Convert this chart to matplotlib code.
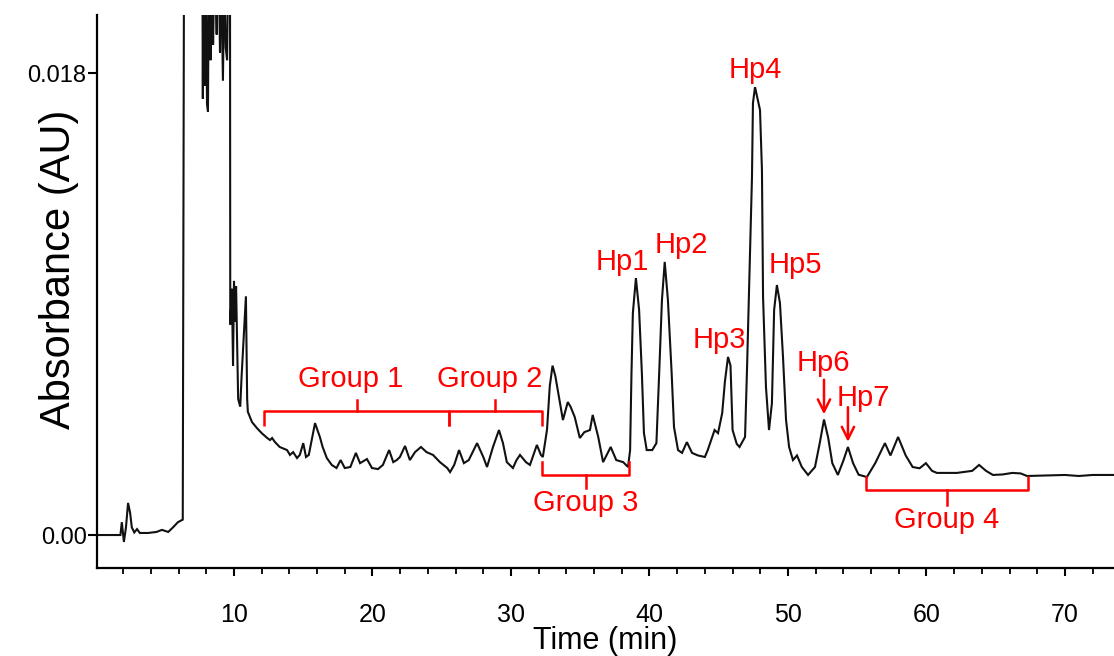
import matplotlib

matplotlib.use("Agg")
import matplotlib.pyplot as plt
from matplotlib.ticker import FixedLocator, FixedFormatter, MultipleLocator

# chromatogram trace: retention time (min) and absorbance (AU)
time_min = [
    0.1, 1.8, 1.9, 2.05, 2.2, 2.35, 2.5, 2.62, 2.8, 3.0, 3.2, 3.8, 4.4, 4.8, 5.25, 5.6, 5.95, 6.3,
    6.34, 6.4, 7.7, 7.75, 7.8, 7.9, 7.95, 8.05, 8.12, 8.2, 8.3, 8.4, 8.49, 8.6, 8.75, 8.85, 8.99,
    9.05, 9.2, 9.3, 9.4, 9.5, 9.6, 9.71, 9.73, 9.85, 9.93, 10.0, 10.07, 10.15, 10.3, 10.45, 10.55,
    10.86, 10.95, 11.0, 11.3, 11.65, 12.0, 12.4, 12.6, 12.75, 12.96, 13.3, 13.83, 14.04, 14.27,
    14.55, 14.75, 15.0, 15.2, 15.4, 15.85, 16.2, 16.4, 16.7, 17.06, 17.4, 17.7, 18.0, 18.4, 18.8,
    19.1, 19.6, 19.96, 20.4, 20.75, 21.2, 21.5, 21.75, 21.98, 22.35, 22.7, 23.07, 23.5, 23.9,
    24.37, 24.87, 25.4, 25.6, 25.9, 26.25, 26.6, 26.95, 27.55, 28.0, 28.27, 28.7, 29.13, 29.42,
    29.7, 30.14, 30.4, 30.65, 31.08, 31.37, 31.87, 32.16, 32.3, 32.6, 32.8, 33.0, 33.2, 33.5,
    33.75, 34.1, 34.3, 34.6, 34.97, 35.3, 35.7, 35.9, 36.3, 36.65, 37.2, 37.6, 38.1, 38.45, 38.6,
    38.7, 38.8, 39.02, 39.25, 39.45, 39.6, 39.8, 40.2, 40.5, 40.7, 40.9, 41.1, 41.33, 41.6, 41.77,
    42.06, 42.35, 42.7, 43.07, 43.5, 44.0, 44.2, 44.7, 44.95, 45.25, 45.45, 45.67, 45.85, 46.0,
    46.3, 46.5, 46.9, 47.04, 47.2, 47.4, 47.47, 47.62, 47.8, 47.98, 48.12, 48.2, 48.41, 48.63,
    48.84, 49.0, 49.2, 49.42, 49.64, 49.86, 50.08, 50.36, 50.65, 51.0, 51.45, 51.95, 52.3, 52.6,
    52.9, 53.2, 53.6, 54.0, 54.33, 54.7, 55.1, 55.7, 56.3, 57.0, 57.4, 57.95, 58.5, 59.0, 59.5,
    59.96, 60.4, 60.75, 62.2, 63.3, 63.8, 64.3, 64.8, 65.5, 66.2, 66.8, 67.26, 68.5, 70.0, 71.0,
    72.0, 73.6,
]
absorbance = [
    0.0, 0.0, 0.0005, -0.00027, 0.0003, 0.00125, 0.00086, 0.0003, 0.0001, 0.00023, 0.00008,
    0.00008, 0.00012, 0.0002, 0.00012, 0.0003, 0.0005, 0.0006,
    0.0102, 0.025, 0.025, 0.0170, 0.024, 0.0175, 0.024, 0.0168, 0.0165, 0.024, 0.0185, 0.024,
    0.0191, 0.023, 0.0195, 0.024, 0.0188, 0.023, 0.0177, 0.022, 0.0190, 0.0185, 0.023, 0.023,
    0.0082, 0.0096, 0.0066, 0.0099, 0.0083, 0.0097, 0.0053, 0.0050, 0.0062,
    0.0093, 0.0053, 0.0048, 0.0044, 0.00417, 0.00397, 0.00378, 0.0037, 0.00378, 0.00362,
    0.00343, 0.00331, 0.00312, 0.00323, 0.0030, 0.00312, 0.00358, 0.00304, 0.00312, 0.00436,
    0.00382, 0.00343, 0.0030, 0.00273, 0.00261, 0.00292, 0.00261, 0.00265, 0.0032, 0.0028,
    0.00296, 0.00261, 0.00257, 0.00273, 0.00331, 0.00284, 0.00292, 0.00304, 0.00347, 0.00292,
    0.00323, 0.00343, 0.00323, 0.00312, 0.00284, 0.00261, 0.00245, 0.00273, 0.00331, 0.0028,
    0.00292, 0.00358, 0.00304, 0.00265, 0.00343, 0.00409, 0.00358, 0.00284, 0.00261, 0.00292,
    0.00312, 0.00284, 0.00273, 0.00351, 0.00312, 0.00304, 0.0041, 0.0058, 0.0066, 0.0062,
    0.00526, 0.00448, 0.00518, 0.0050, 0.0046, 0.00378, 0.00401, 0.00409, 0.00468, 0.00382,
    0.00284, 0.00343, 0.00292, 0.00284, 0.00265, 0.0033, 0.00631, 0.00865, 0.01001, 0.00877,
    0.00631, 0.00397, 0.00331, 0.00331, 0.00358, 0.00631, 0.00916, 0.01064, 0.00916, 0.00631,
    0.00421, 0.00331, 0.0032, 0.00362, 0.0032, 0.0031, 0.00304, 0.0033, 0.00409, 0.00397,
    0.00475, 0.0060, 0.00694, 0.0066, 0.00409, 0.00355, 0.00343, 0.00382, 0.00643, 0.00982,
    0.01395, 0.01683, 0.01745, 0.0170, 0.01656, 0.01422, 0.00927, 0.00577, 0.00409, 0.00514,
    0.00877, 0.00974, 0.00904, 0.00694, 0.00448, 0.00343, 0.00292, 0.0031, 0.00265, 0.00234,
    0.00265, 0.0036, 0.0045, 0.0038, 0.0028, 0.00234, 0.0029, 0.00343, 0.0028, 0.00235,
    0.00226, 0.0028, 0.00358, 0.0031, 0.00382, 0.0031, 0.00265, 0.0026, 0.0028, 0.0025,
    0.00242, 0.00242, 0.0025, 0.00273, 0.0025, 0.00234, 0.00236, 0.00242, 0.0024, 0.0023,
    0.00232, 0.00234, 0.0023, 0.00234, 0.00234,
]

# fraction groups (start, end of collection window in min)
group_names = ["Group 1", "Group 2", "Group 3", "Group 4"]
group_start = [12.17, 25.52, 32.24, 55.63]
group_end = [25.52, 32.24, 38.52, 67.33]

# labelled peaks
peak_names = ["Hp1", "Hp2", "Hp3", "Hp4", "Hp5", "Hp6", "Hp7"]
peak_times = [39.02, 41.1, 45.67, 47.62, 49.2, 52.6, 54.33]
peak_heights = [0.01001, 0.01064, 0.00694, 0.01745, 0.00974, 0.0045, 0.00343]

RED = "#ff0000"
plt.rcParams["font.family"] = ["Liberation Sans", "DejaVu Sans"]

fig = plt.figure(figsize=(11.14, 6.56), dpi=100)
ax = fig.add_axes([0.0871, 0.1341, 0.9129, 0.8430])

ax.plot(time_min, absorbance, color="#111111", lw=1.5, solid_joinstyle="miter")
ax.set_xlim(0.11, 73.54)
ax.set_ylim(-0.001286, 0.02026)

for side in ("top", "right"):
    ax.spines[side].set_visible(False)
for side in ("left", "bottom"):
    ax.spines[side].set_linewidth(1.6)

ax.xaxis.set_major_locator(FixedLocator([10, 20, 30, 40, 50, 60, 70]))
ax.xaxis.set_minor_locator(MultipleLocator(2))
ax.yaxis.set_major_locator(FixedLocator([0.0, 0.018]))
ax.yaxis.set_major_formatter(FixedFormatter(["0.00", "0.018"]))
ax.tick_params(axis="x", which="major", direction="out", length=6, width=1.5,
               pad=19, labelsize=18)
ax.tick_params(axis="x", which="minor", direction="out", length=4, width=1.3)
ax.tick_params(axis="y", which="major", direction="out", length=6.5, width=1.5,
               pad=1, labelsize=17)

ax.set_xlabel("Time (min)", fontsize=22)
ax.xaxis.set_label_coords(0.5, -0.105)
ax.set_ylabel("Absorbance (AU)", fontsize=30)
ax.yaxis.set_label_coords(-0.018, 0.54)

# brackets over groups 1 and 2 (shared horizontal line, ticks pointing down to the trace)
top_y, end_y, mid_y = 0.00483, 0.00425, 0.00526
for s, e, name in zip(group_start[:2], group_end[:2], group_names[:2]):
    c = (s + e) / 2
    ax.plot([s, s, e, e], [end_y, top_y, top_y, end_y], color=RED, lw=1.8,
            solid_capstyle="butt")
    ax.plot([c, c], [top_y, mid_y], color=RED, lw=1.8)
    ax.text(c - 0.4, 0.00608, name, color=RED, fontsize=21, ha="center", va="center")

# brackets under groups 3 and 4
for s, e, name, y_top, y_line, y_tip, y_txt in [
    (group_start[2], group_end[2], group_names[2], 0.00284, 0.00234, 0.00183, 0.00125),
    (group_start[3], group_end[3], group_names[3], 0.00226, 0.00175, 0.00117, 0.00058),
]:
    c = (s + e) / 2
    ax.plot([s, s, e, e], [y_top, y_line, y_line, y_top], color=RED, lw=1.8)
    ax.plot([c, c], [y_line, y_tip], color=RED, lw=1.8)
    ax.text(c, y_txt, name, color=RED, fontsize=21, ha="center", va="center")

# peak labels
label_pos = {
    "Hp1": (38.01, 0.01064), "Hp2": (42.27, 0.0113), "Hp3": (45.02, 0.0076),
    "Hp4": (47.62, 0.01812), "Hp5": (50.5, 0.01052), "Hp6": (52.53, 0.0067),
    "Hp7": (55.42, 0.00534),
}
for name, t, h in zip(peak_names, peak_times, peak_heights):
    lx, ly = label_pos[name]
    ax.text(lx, ly, name, color=RED, fontsize=21, ha="center", va="center")
    if name in ("Hp6", "Hp7"):
        ax.annotate("", xy=(t, h + 0.0002), xytext=(t, h + 0.00155),
                    arrowprops=dict(arrowstyle="->", color=RED, lw=1.8,
                                    mutation_scale=22, shrinkA=0, shrinkB=0))

fig.savefig("out.png", dpi=100)
